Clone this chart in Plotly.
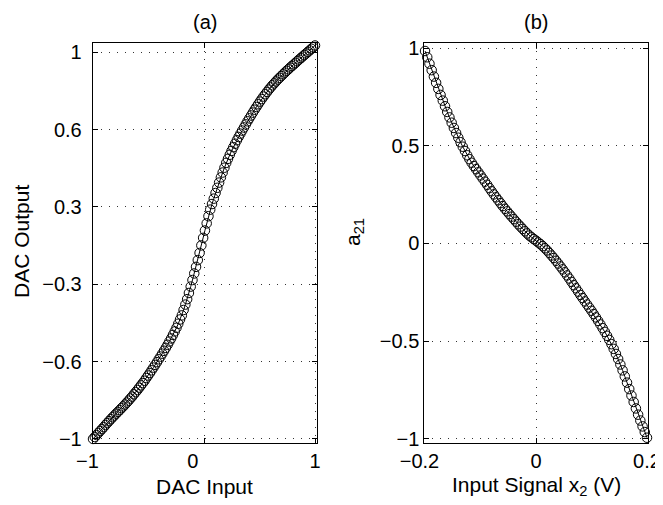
import plotly.graph_objects as go

# ---------------- data ----------------
dac_input = [
    -1.000, -0.984, -0.968, -0.952, -0.936, -0.920, -0.904, -0.888, -0.872, -0.856,
    -0.840, -0.824, -0.808, -0.792, -0.776, -0.760, -0.744, -0.728, -0.712, -0.696,
    -0.680, -0.664, -0.648, -0.632, -0.616, -0.600, -0.584, -0.568, -0.552, -0.536,
    -0.520, -0.504, -0.488, -0.472, -0.456, -0.440, -0.424, -0.408, -0.392, -0.376,
    -0.360, -0.344, -0.328, -0.312, -0.296, -0.280, -0.264, -0.248, -0.232, -0.216,
    -0.200, -0.184, -0.168, -0.152, -0.136, -0.120, -0.104, -0.088, -0.072, -0.056,
    -0.040, -0.024, -0.008, 0.008, 0.024, 0.040, 0.056, 0.072, 0.088, 0.104,
    0.120, 0.136, 0.152, 0.168, 0.184, 0.200, 0.216, 0.232, 0.248, 0.264,
    0.280, 0.296, 0.312, 0.328, 0.344, 0.360, 0.376, 0.392, 0.408, 0.424,
    0.440, 0.456, 0.472, 0.488, 0.504, 0.520, 0.536, 0.552, 0.568, 0.584,
    0.600, 0.616, 0.632, 0.648, 0.664, 0.680, 0.696, 0.712, 0.728, 0.744,
    0.760, 0.776, 0.792, 0.808, 0.824, 0.840, 0.856, 0.872, 0.888, 0.904,
    0.920, 0.936, 0.952, 0.968, 0.984, 1.000,
]
dac_output = [
    -1.000, -0.990, -0.980, -0.969, -0.959, -0.949, -0.939, -0.928, -0.918, -0.908,
    -0.898, -0.888, -0.879, -0.869, -0.860, -0.851, -0.841, -0.832, -0.822, -0.812,
    -0.802, -0.791, -0.781, -0.769, -0.758, -0.747, -0.735, -0.723, -0.711, -0.699,
    -0.685, -0.672, -0.659, -0.645, -0.631, -0.617, -0.603, -0.588, -0.574, -0.559,
    -0.544, -0.529, -0.513, -0.496, -0.480, -0.462, -0.444, -0.425, -0.404, -0.382,
    -0.361, -0.333, -0.305, -0.277, -0.245, -0.212, -0.178, -0.144, -0.110, -0.075,
    -0.038, 0.001, 0.040, 0.078, 0.115, 0.152, 0.186, 0.215, 0.243, 0.272,
    0.299, 0.326, 0.353, 0.378, 0.403, 0.428, 0.449, 0.470, 0.490, 0.509,
    0.527, 0.545, 0.562, 0.579, 0.595, 0.611, 0.627, 0.643, 0.658, 0.673,
    0.688, 0.703, 0.717, 0.731, 0.745, 0.758, 0.771, 0.783, 0.795, 0.807,
    0.818, 0.829, 0.839, 0.849, 0.859, 0.868, 0.877, 0.886, 0.895, 0.904,
    0.912, 0.921, 0.929, 0.937, 0.945, 0.954, 0.962, 0.970, 0.978, 0.986,
    0.994, 1.002, 1.010, 1.018, 1.026, 1.035,
]

x2_signal = [
    -0.200, -0.196, -0.192, -0.188, -0.184, -0.180, -0.176, -0.172, -0.168, -0.164,
    -0.160, -0.156, -0.152, -0.148, -0.144, -0.140, -0.136, -0.132, -0.128, -0.124,
    -0.120, -0.116, -0.112, -0.108, -0.104, -0.100, -0.096, -0.092, -0.088, -0.084,
    -0.080, -0.076, -0.072, -0.068, -0.064, -0.060, -0.056, -0.052, -0.048, -0.044,
    -0.040, -0.036, -0.032, -0.028, -0.024, -0.020, -0.016, -0.012, -0.008, -0.004,
    0.000, 0.004, 0.008, 0.012, 0.016, 0.020, 0.024, 0.028, 0.032, 0.036,
    0.040, 0.044, 0.048, 0.052, 0.056, 0.060, 0.064, 0.068, 0.072, 0.076,
    0.080, 0.084, 0.088, 0.092, 0.096, 0.100, 0.104, 0.108, 0.112, 0.116,
    0.120, 0.124, 0.128, 0.132, 0.136, 0.140, 0.144, 0.148, 0.152, 0.156,
    0.160, 0.164, 0.168, 0.172, 0.176, 0.180, 0.184, 0.188, 0.192, 0.196,
    0.200,
]
a21_values = [
    0.985, 0.953, 0.920, 0.887, 0.854, 0.822, 0.791, 0.760, 0.731, 0.702,
    0.673, 0.645, 0.618, 0.591, 0.565, 0.541, 0.518, 0.495, 0.473, 0.451,
    0.431, 0.413, 0.396, 0.380, 0.364, 0.348, 0.332, 0.316, 0.300, 0.283,
    0.267, 0.251, 0.236, 0.221, 0.206, 0.191, 0.177, 0.164, 0.150, 0.137,
    0.124, 0.111, 0.098, 0.086, 0.074, 0.062, 0.051, 0.040, 0.031, 0.022,
    0.014, 0.005, -0.004, -0.014, -0.025, -0.036, -0.049, -0.062, -0.075, -0.089,
    -0.103, -0.118, -0.133, -0.148, -0.164, -0.180, -0.197, -0.214, -0.230, -0.247,
    -0.264, -0.280, -0.297, -0.313, -0.329, -0.345, -0.362, -0.379, -0.397, -0.415,
    -0.434, -0.453, -0.473, -0.494, -0.516, -0.540, -0.566, -0.592, -0.620, -0.650,
    -0.681, -0.713, -0.746, -0.779, -0.812, -0.845, -0.877, -0.907, -0.937, -0.966,
    -0.995,
]

left_xtick_vals = [-1, 0, 1]
left_xtick_text = ["\u22121\u2007", "0\u2007\u2007", "1"]
left_ytick_vals = [-1, -0.6, -0.2, 0.2, 0.6, 1]
left_ytick_text = ["\u22121", "\u22120.6", "\u22120.3", "0.3", "0.6", "1"]
right_xtick_vals = [-0.2, 0, 0.2]
right_xtick_text = ["\u22120.2\u2007", "0", "0.2"]
right_ytick_vals = [-1, -0.5, 0, 0.5, 1]
right_ytick_text = ["\u22121", "\u22120.5", "0", "0.5", "1"]

titles = ["(a)", "(b)"]
x_titles = ["DAC Input", "Input Signal x<sub>2</sub> (V)"]
y_titles = ["DAC Output", "a<sub>21</sub>"]

# ---------------- figure ----------------
# The page adds an 8 px body margin, so the figure is 8 px smaller on each axis
# and all positions below are given in page pixels minus 8.
OFF = 8
W, H = 663 - OFF, 505 - OFF
FONT = "Liberation Sans, Arial, Helvetica, sans-serif"

fig = go.Figure()
marker = dict(symbol="circle-open", size=9.5, color="black", line=dict(width=1, color="black"))
fig.add_trace(go.Scatter(x=dac_input, y=dac_output, mode="lines+markers",
                         line=dict(color="black", width=1), marker=marker,
                         xaxis="x", yaxis="y", showlegend=False, cliponaxis=False))
fig.add_trace(go.Scatter(x=x2_signal, y=a21_values, mode="lines+markers",
                         line=dict(color="black", width=1), marker=marker,
                         xaxis="x2", yaxis="y2", showlegend=False, cliponaxis=False))

L = (92.7 - OFF, 317.0 - OFF)
R = (424.3 - OFF, 648.0 - OFF)
TOP, BOT = 43.0 - OFF, 443.0 - OFF

def ax_common():
    return dict(showline=True, linecolor="black", linewidth=1, mirror="allticks",
                ticks="inside", ticklen=5, tickcolor="black", tickwidth=1,
                showgrid=True, gridcolor="#333333", gridwidth=1, griddash="1px,7px",
                zeroline=False, automargin=False,
                tickfont=dict(family=FONT, size=20, color="black"))

fig.update_layout(
    width=W, height=H, autosize=False,
    margin=dict(l=0, r=0, t=0, b=0, pad=0),
    paper_bgcolor="white", plot_bgcolor="white",
    font=dict(family=FONT, size=20, color="black"),
    xaxis=dict(domain=[L[0] / W, L[1] / W], range=[-1.003, 1.018], anchor="y",
               tickvals=left_xtick_vals, ticktext=left_xtick_text, **ax_common()),
    yaxis=dict(domain=[1 - BOT / H, 1 - TOP / H], range=[-1.021, 1.048], anchor="x",
               tickvals=left_ytick_vals, ticktext=left_ytick_text,
               ticklabelstandoff=6, **ax_common()),
    xaxis2=dict(domain=[R[0] / W, R[1] / W], range=[-0.2013, 0.2018], anchor="y2",
                tickvals=right_xtick_vals, ticktext=right_xtick_text, **ax_common()),
    yaxis2=dict(domain=[1 - BOT / H, 1 - TOP / H], range=[-1.022, 1.026], anchor="x2",
                tickvals=right_ytick_vals, ticktext=right_ytick_text,
                ticklabelstandoff=0, **ax_common()),
)

cx = [(L[0] + L[1]) / 2 / W, (R[0] + R[1]) / 2 / W]
ann = []
for i in range(2):
    ann.append(dict(text=titles[i], x=cx[i], y=1 - (21.5 - OFF) / H, xref="paper", yref="paper",
                    xanchor="center", yanchor="middle", showarrow=False,
                    font=dict(family=FONT, size=20, color="black")))
    ann.append(dict(text=x_titles[i], x=cx[i], y=1 - (486 - OFF) / H, xref="paper", yref="paper",
                    xanchor="center", yanchor="middle", showarrow=False,
                    font=dict(family=FONT, size=21, color="black")))
ann.append(dict(text=y_titles[0], x=(21 - OFF) / W, y=1 - (242 - OFF) / H, xref="paper", yref="paper",
                xanchor="center", yanchor="middle", textangle=-90, showarrow=False,
                font=dict(family=FONT, size=21, color="black")))
ann.append(dict(text=y_titles[1], x=(354 - OFF) / W, y=1 - (232 - OFF) / H, xref="paper", yref="paper",
                xanchor="center", yanchor="middle", textangle=-90, showarrow=False,
                font=dict(family=FONT, size=21, color="black")))
fig.update_layout(annotations=ann)

fig.write_html("out.html")
